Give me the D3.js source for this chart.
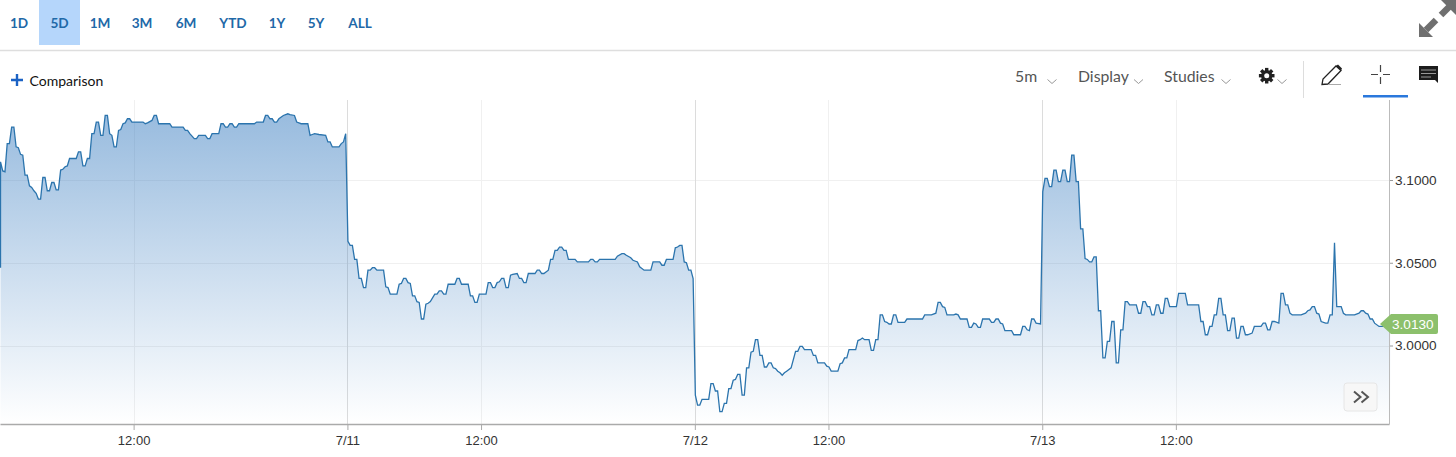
<!DOCTYPE html>
<html>
<head>
<meta charset="utf-8">
<script src="https://cdn.jsdelivr.net/npm/d3@7"></script>
<style>
  html, body { margin: 0; padding: 0; background: #fff; overflow: hidden; }
  svg { display: block; }
  .menu { font-family: Lato, sans-serif; }
  .axis text { font-family: "Liberation Sans", Arial, sans-serif; fill: #333; }
</style>
</head>
<body>
<div id="chart"></div>
<script>
// --- Range buttons and toolbar text ---
const rangeLabels = ["1D", "5D", "1M", "3M", "6M", "YTD", "1Y", "5Y", "ALL"];
const rangeCenters = [19, 59.5, 100, 142, 186, 233, 277, 316, 360];
const toolLabels = ["5m", "Display", "Studies"];

// --- Axis ticks (x is counted in 5 minute bars, 156 bars per session) ---
const timeTicks = [60, 156, 216, 312, 372, 468, 528];
const timeLabels = ["12:00", "7/11", "12:00", "7/12", "12:00", "7/13", "12:00"];
const dayTicks = [156, 312, 468];
const priceTicks = [3.0, 3.05, 3.1];
const lastPrice = 3.013;

// --- Price: [bar, price], flat runs only keep their ends ---
const session1 = [
  [0, 3.0470], [0, 3.1110], [1, 3.1055], [2, 3.1050], [3, 3.1220], [4, 3.1220], [5, 3.1320], [6, 3.1320],
  [7, 3.1200], [8, 3.1195], [9, 3.1155], [10, 3.1150], [11, 3.1030], [12, 3.1030], [13, 3.0965], [14, 3.0955],
  [15, 3.0935], [16, 3.0920], [17, 3.0885], [18, 3.0885], [19, 3.1015], [20, 3.1015], [21, 3.0935], [22, 3.0935],
  [23, 3.0985], [24, 3.0985], [25, 3.0940], [26, 3.0940], [27, 3.1060], [28, 3.1065], [29, 3.1080], [30, 3.1085],
  [31, 3.1130], [34, 3.1130], [35, 3.1170], [36, 3.1170], [37, 3.1085], [38, 3.1085], [39, 3.1130], [40, 3.1130],
  [41, 3.1280], [42, 3.1280], [43, 3.1350], [44, 3.1350], [45, 3.1270], [46, 3.1270], [47, 3.1390], [48, 3.1390],
  [49, 3.1280], [50, 3.1270], [51, 3.1200], [52, 3.1200], [53, 3.1300], [54, 3.1305], [55, 3.1340], [56, 3.1345],
  [57, 3.1370], [58, 3.1370], [59, 3.1350], [64, 3.1350], [65, 3.1340], [66, 3.1345], [68, 3.1360], [69, 3.1390],
  [70, 3.1390], [71, 3.1340], [76, 3.1340], [77, 3.1320], [82, 3.1320], [83, 3.1300], [84, 3.1300], [85, 3.1280],
  [86, 3.1265], [87, 3.1250], [88, 3.1250], [89, 3.1270], [92, 3.1270], [93, 3.1250], [94, 3.1250], [95, 3.1280],
  [98, 3.1280], [99, 3.1340], [100, 3.1340], [101, 3.1320], [102, 3.1320], [103, 3.1340], [104, 3.1340], [105, 3.1320],
  [106, 3.1320], [107, 3.1340], [114, 3.1340], [115, 3.1350], [118, 3.1350], [119, 3.1390], [120, 3.1390], [121, 3.1370],
  [122, 3.1370], [123, 3.1350], [124, 3.1350], [125, 3.1370], [127, 3.1390], [129, 3.1400], [130, 3.1395], [132, 3.1390],
  [133, 3.1350], [134, 3.1345], [135, 3.1340], [138, 3.1340], [139, 3.1270], [140, 3.1275], [141, 3.1280], [143, 3.1275],
  [146, 3.1270], [147, 3.1230], [148, 3.1230], [149, 3.1200], [152, 3.1200], [153, 3.1220], [154, 3.1230], [155, 3.1280]
];
const session2 = [
  [156, 3.0630], [157, 3.0605], [158, 3.0605], [159, 3.0520], [160, 3.0520], [161, 3.0405], [162, 3.0405], [163, 3.0350],
  [164, 3.0350], [165, 3.0455], [166, 3.0455], [167, 3.0470], [168, 3.0470], [169, 3.0455], [172, 3.0455], [173, 3.0355],
  [174, 3.0350], [175, 3.0310], [178, 3.0310], [179, 3.0370], [180, 3.0375], [181, 3.0405], [182, 3.0405], [183, 3.0380],
  [184, 3.0375], [185, 3.0300], [186, 3.0300], [187, 3.0265], [188, 3.0260], [189, 3.0160], [190, 3.0160], [191, 3.0250],
  [192, 3.0255], [193, 3.0265], [195, 3.0310], [196, 3.0310], [197, 3.0330], [198, 3.0330], [199, 3.0310], [200, 3.0310],
  [201, 3.0370], [204, 3.0370], [205, 3.0405], [206, 3.0405], [207, 3.0370], [210, 3.0370], [211, 3.0300], [212, 3.0300],
  [213, 3.0260], [214, 3.0260], [215, 3.0310], [218, 3.0310], [219, 3.0380], [220, 3.0380], [221, 3.0350], [222, 3.0350],
  [223, 3.0380], [224, 3.0385], [225, 3.0405], [226, 3.0405], [227, 3.0350], [228, 3.0350], [229, 3.0425], [230, 3.0430],
  [232, 3.0435], [233, 3.0405], [234, 3.0405], [235, 3.0380], [236, 3.0380], [237, 3.0435], [240, 3.0435], [241, 3.0455],
  [242, 3.0455], [243, 3.0435], [244, 3.0435], [246, 3.0455], [247, 3.0520], [248, 3.0520], [249, 3.0575], [250, 3.0575],
  [251, 3.0595], [252, 3.0595], [253, 3.0575], [254, 3.0575], [255, 3.0520], [258, 3.0520], [259, 3.0505], [264, 3.0505],
  [265, 3.0520], [266, 3.0520], [267, 3.0505], [268, 3.0505], [269, 3.0520], [276, 3.0520], [277, 3.0540], [279, 3.0555],
  [280, 3.0555], [281, 3.0545], [283, 3.0530], [284, 3.0515], [286, 3.0505], [287, 3.0475], [288, 3.0465], [289, 3.0455],
  [292, 3.0455], [293, 3.0505], [296, 3.0505], [297, 3.0485], [298, 3.0485], [299, 3.0520], [302, 3.0520], [303, 3.0590],
  [304, 3.0595], [305, 3.0605], [306, 3.0605], [307, 3.0505], [308, 3.0500], [309, 3.0455], [310, 3.0455], [311, 3.0405]
];
const session3 = [
  [312, 2.9700], [313, 2.9640], [314, 2.9640], [315, 2.9675], [318, 2.9675], [319, 2.9770], [320, 2.9770], [321, 2.9725],
  [322, 2.9725], [323, 2.9600], [324, 2.9600], [325, 2.9650], [326, 2.9650], [327, 2.9740], [328, 2.9740], [329, 2.9790],
  [330, 2.9795], [331, 2.9825], [332, 2.9825], [333, 2.9700], [334, 2.9700], [335, 2.9865], [336, 2.9865], [337, 2.9960],
  [338, 2.9965], [339, 3.0035], [340, 3.0035], [341, 2.9940], [342, 2.9940], [343, 2.9870], [344, 2.9870], [345, 2.9895],
  [346, 2.9895], [347, 2.9865], [348, 2.9860], [349, 2.9845], [350, 2.9835], [351, 2.9820], [352, 2.9835], [353, 2.9845],
  [355, 2.9865], [357, 2.9965], [358, 2.9965], [359, 2.9995], [360, 2.9995], [361, 2.9975], [364, 2.9975], [365, 2.9940],
  [366, 2.9940], [367, 2.9895], [370, 2.9895], [371, 2.9875], [372, 2.9870], [373, 2.9845], [376, 2.9845], [377, 2.9890],
  [378, 2.9895], [379, 2.9925], [380, 2.9925], [381, 2.9975], [384, 2.9975], [385, 3.0030], [386, 3.0035], [387, 3.0045],
  [388, 3.0035], [390, 3.0035], [391, 2.9970], [392, 2.9970], [393, 3.0035], [394, 3.0035], [395, 3.0185], [396, 3.0185],
  [397, 3.0145], [398, 3.0140], [399, 3.0130], [400, 3.0130], [401, 3.0185], [402, 3.0185], [403, 3.0140], [406, 3.0140],
  [407, 3.0160], [414, 3.0160], [415, 3.0185], [418, 3.0185], [420, 3.0195], [421, 3.0260], [422, 3.0260], [423, 3.0235],
  [424, 3.0230], [425, 3.0185], [428, 3.0185], [429, 3.0190], [430, 3.0185], [431, 3.0160], [434, 3.0160], [435, 3.0110],
  [436, 3.0110], [437, 3.0135], [438, 3.0130], [439, 3.0110], [440, 3.0110], [441, 3.0160], [444, 3.0160], [445, 3.0140],
  [446, 3.0140], [447, 3.0160], [448, 3.0160], [449, 3.0135], [450, 3.0130], [451, 3.0090], [454, 3.0090], [455, 3.0065],
  [458, 3.0065], [459, 3.0115], [460, 3.0115], [461, 3.0095], [462, 3.0090], [463, 3.0160], [464, 3.0160], [465, 3.0135],
  [467, 3.0130]
];
const session4 = [
  [468, 3.0930], [469, 3.1010], [470, 3.1010], [471, 3.0960], [472, 3.0960], [473, 3.1060], [474, 3.1060], [475, 3.0990],
  [476, 3.0990], [477, 3.1060], [478, 3.1060], [479, 3.0990], [480, 3.0990], [481, 3.1150], [482, 3.1150], [483, 3.0990],
  [484, 3.0990], [485, 3.0705], [486, 3.0705], [487, 3.0525], [488, 3.0520], [489, 3.0505], [490, 3.0505], [491, 3.0535],
  [492, 3.0535], [493, 3.0210], [494, 3.0210], [495, 2.9925], [496, 2.9925], [497, 3.0025], [498, 3.0025], [499, 3.0145],
  [500, 3.0145], [501, 2.9895], [502, 2.9895], [503, 3.0095], [504, 3.0095], [505, 3.0265], [506, 3.0265], [507, 3.0245],
  [510, 3.0245], [511, 3.0195], [512, 3.0195], [513, 3.0265], [514, 3.0265], [515, 3.0235], [516, 3.0235], [517, 3.0185],
  [518, 3.0185], [519, 3.0245], [520, 3.0245], [521, 3.0195], [522, 3.0195], [523, 3.0285], [524, 3.0285], [525, 3.0235],
  [528, 3.0235], [529, 3.0315], [532, 3.0315], [533, 3.0245], [538, 3.0245], [539, 3.0145], [540, 3.0145], [541, 3.0065],
  [542, 3.0065], [543, 3.0115], [544, 3.0115], [545, 3.0185], [546, 3.0185], [547, 3.0285], [548, 3.0285], [549, 3.0185],
  [550, 3.0185], [551, 3.0090], [552, 3.0090], [553, 3.0165], [554, 3.0165], [555, 3.0045], [556, 3.0045], [557, 3.0115],
  [558, 3.0115], [559, 3.0065], [560, 3.0065], [562, 3.0075], [563, 3.0115], [566, 3.0115], [567, 3.0135], [568, 3.0135],
  [569, 3.0095], [570, 3.0095], [571, 3.0145], [572, 3.0145], [574, 3.0135], [575, 3.0315], [576, 3.0315], [577, 3.0245],
  [578, 3.0245], [579, 3.0195], [580, 3.0185], [584, 3.0185], [586, 3.0195], [587, 3.0210], [588, 3.0215], [589, 3.0235],
  [590, 3.0235], [591, 3.0195], [592, 3.0190], [593, 3.0145], [595, 3.0135], [596, 3.0135], [597, 3.0185], [598, 3.0185],
  [599, 3.0620], [600, 3.0235], [602, 3.0235], [603, 3.0195], [604, 3.0185], [608, 3.0185], [610, 3.0195], [611, 3.0210],
  [612, 3.0210], [613, 3.0195], [614, 3.0190], [615, 3.0160], [616, 3.0160], [617, 3.0135], [619, 3.0115], [624, 3.0115]
];
const prices = [...session1, ...session2, ...session3, ...session4];

// --- Sizes ---
const W = 1456, H = 457;
const plot = { left: 0, right: 1389, top: 100, bottom: 424 };

const svg = d3.select("#chart").append("svg").attr("width", W).attr("height", H);

// --- Scales ---
const x = d3.scaleLinear().domain([0, 623.7]).range([plot.left, plot.right]);
const y = d3.scaleLinear().domain([3.0, 3.1]).range([345.5, 180]);
const lineX = d => x(d[0] + 0.5) - 0.6;   // points sit in the middle of their bar

// --- Gradient under the line ---
const grad = svg.append("defs").append("linearGradient")
    .attr("id", "mountain")
    .attr("gradientUnits", "userSpaceOnUse")
    .attr("x1", 0).attr("x2", 0)
    .attr("y1", y(3.14)).attr("y2", plot.bottom);
grad.append("stop").attr("offset", 0).attr("stop-color", "#3278be").attr("stop-opacity", 0.5);
grad.append("stop").attr("offset", 1).attr("stop-color", "#3278be").attr("stop-opacity", 0);

// --- Grid ---
svg.append("g").selectAll("line")
    .data(priceTicks)
    .join("line")
    .attr("x1", plot.left).attr("x2", plot.right)
    .attr("y1", d => Math.round(y(d)) + 0.5).attr("y2", d => Math.round(y(d)) + 0.5)
    .attr("stroke", "#f0f0f0");
svg.append("g").selectAll("line")
    .data(timeTicks)
    .join("line")
    .attr("x1", d => Math.round(x(d)) + 0.5).attr("x2", d => Math.round(x(d)) + 0.5)
    .attr("y1", plot.top).attr("y2", plot.bottom)
    .attr("stroke", d => dayTicks.includes(d) ? "#dcdcdc" : "#f0f0f0");

// --- Area and line ---
const area = d3.area().x(lineX).y0(plot.bottom).y1(d => y(d[1]));
const line = d3.line().x(lineX).y(d => y(d[1]));
svg.append("path").datum(prices).attr("d", area).attr("fill", "url(#mountain)");
svg.append("path").datum(prices).attr("d", line)
    .attr("fill", "none").attr("stroke", "#2b74ad").attr("stroke-width", 1.3);

// --- Axes ---
const xAxis = d3.axisBottom(x)
    .tickValues(timeTicks)
    .tickFormat((d, i) => timeLabels[i])
    .tickSizeInner(6).tickSizeOuter(0).tickPadding(6);
const xG = svg.append("g").attr("class", "axis").attr("transform", `translate(0, ${plot.bottom})`).call(xAxis);
xG.select(".domain").attr("stroke", "#aaa").attr("stroke-width", 1.5);
xG.selectAll("line").attr("stroke", "#aaa");
xG.selectAll("text").style("font-size", "13px");

const yAxis = d3.axisRight(y)
    .tickValues(priceTicks)
    .tickFormat(d3.format(".4f"))
    .tickSize(4).tickPadding(2);
const yG = svg.append("g").attr("class", "axis").attr("transform", `translate(${plot.right}, 0)`).call(yAxis);
yG.select(".domain").remove();
yG.selectAll("line").attr("stroke", "#999");
yG.selectAll("text").style("font-size", "13.6px");
svg.append("line")
    .attr("x1", plot.right + 0.5).attr("x2", plot.right + 0.5)
    .attr("y1", plot.top).attr("y2", plot.bottom + 0.5)
    .attr("stroke", "#bbb");

// --- Last price flag ---
const lastY = y(lastPrice);
svg.append("path")
    .attr("d", `M1380 ${lastY} L1391 ${lastY - 10} H1436 Q1438 ${lastY - 10} 1438 ${lastY - 8} V${lastY + 8} Q1438 ${lastY + 10} 1436 ${lastY + 10} H1391 Z`)
    .attr("fill", "#8cc06c");
svg.append("text")
    .attr("x", 1392).attr("y", lastY + 5)
    .text(d3.format(".4f")(lastPrice))
    .style("font-family", "Liberation Sans, Arial, sans-serif")
    .style("font-size", "13.6px")
    .attr("fill", "#fff");

// --- Range buttons ---
svg.append("rect").attr("x", 39).attr("y", 0).attr("width", 41).attr("height", 45).attr("fill", "#b5d6fb");
svg.append("line").attr("x1", 0).attr("x2", W).attr("y1", 50.5).attr("y2", 50.5).attr("stroke", "#dedede").attr("stroke-width", 1.5);
svg.append("g").selectAll("text")
    .data(rangeLabels)
    .join("text")
    .attr("class", "menu")
    .text(d => d)
    .attr("x", (d, i) => rangeCenters[i])
    .attr("y", 28)
    .attr("text-anchor", "middle")
    .style("font-size", "13.6px")
    .style("font-weight", "700")
    .attr("fill", "#1f69a8");

// --- Comparison ---
svg.append("path").attr("d", "M17 74 V86 M11 80 H23").attr("stroke", "#1b62c4").attr("stroke-width", 2.4);
svg.append("text").attr("class", "menu").text("Comparison")
    .attr("x", 29.5).attr("y", 86).style("font-size", "14px").attr("fill", "#111");

// --- Toolbar ---
const toolX = [1015, 1078, 1164];
const chevronX = [1052, 1138.5, 1226, 1282];
svg.append("g").selectAll("text")
    .data(toolLabels)
    .join("text")
    .attr("class", "menu")
    .text(d => d)
    .attr("x", (d, i) => toolX[i])
    .attr("y", 82)
    .style("font-size", "15.8px")
    .attr("fill", "#555");
svg.append("g").selectAll("path")
    .data(chevronX)
    .join("path")
    .attr("d", d => `M${d - 4.5} 79.5 L${d} 83.5 L${d + 4.5} 79.5`)
    .attr("fill", "none").attr("stroke", "#999").attr("stroke-width", 1);

// gear
const gear = svg.append("g").attr("transform", "translate(1266.7, 75.7)");
gear.selectAll("rect")
    .data(d3.range(0, 180, 45))
    .join("rect")
    .attr("x", -1.7).attr("y", -7.8).attr("width", 3.4).attr("height", 15.6)
    .attr("transform", d => `rotate(${d})`)
    .attr("fill", "#222");
gear.append("circle").attr("r", 5.6).attr("fill", "#222");
gear.append("circle").attr("r", 2.5).attr("fill", "#fff");

svg.append("line").attr("x1", 1303.5).attr("x2", 1303.5).attr("y1", 61).attr("y2", 98).attr("stroke", "#ddd");

// pencil
svg.append("path").attr("d", "M1322 84.5 L1323 79 L1336 66 L1341 70.5 L1328 84 Z")
    .attr("fill", "none").attr("stroke", "#222").attr("stroke-width", 1.3);
svg.append("path").attr("d", "M1336 66 L1338 64.5 L1342 68.5 L1341 70.5 Z").attr("fill", "#222");
svg.append("path").attr("d", "M1328 84.5 H1341").attr("stroke", "#aaa").attr("stroke-width", 1);

// crosshair
svg.append("path").attr("d", "M1380.5 65 V72 M1380.5 77 V84 M1371 74.5 H1378 M1383 74.5 H1390")
    .attr("stroke", "#444").attr("stroke-width", 1.2);
svg.append("rect").attr("x", 1363).attr("y", 95).attr("width", 45).attr("height", 2.5).attr("fill", "#2a78dc");

// comment bubble
svg.append("path").attr("d", "M1419 66 H1438 V83 L1435 80 H1419 Z").attr("fill", "#1c1c1c");
svg.append("path").attr("d", "M1421 70 H1436 M1421 73.5 H1436 M1421 77 H1431").attr("stroke", "#999").attr("stroke-width", 1);

// expand arrows
svg.append("path").attr("d", "M1419 23 V37 H1433 Z").attr("fill", "#6f6f6f");
svg.append("path").attr("d", "M1426 30 L1436 20").attr("stroke", "#6f6f6f").attr("stroke-width", 6.5);
svg.append("path").attr("d", "M1441 15 L1449 7").attr("stroke", "#6f6f6f").attr("stroke-width", 6.5);
svg.append("path").attr("d", "M1441 0 H1456 V15 Z").attr("fill", "#6f6f6f");

// --- Scroll-to-end button ---
svg.append("rect").attr("x", 1344).attr("y", 383).attr("width", 33).attr("height", 28).attr("rx", 3)
    .attr("fill", "#f7f7f7").attr("stroke", "#e6e6e6");
svg.append("path").attr("d", "M1354 391.5 L1360.5 397 L1354 402.5 M1361.5 391.5 L1368 397 L1361.5 402.5")
    .attr("fill", "none").attr("stroke", "#555").attr("stroke-width", 2);
</script>
</body>
</html>
